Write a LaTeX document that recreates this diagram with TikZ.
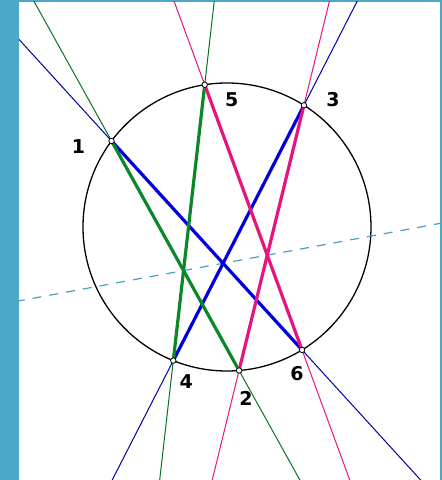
\documentclass[tikz,border=0pt]{standalone}
\usepackage{fontspec}
\newfontfamily\lblfont{DejaVu Sans}
\usepackage{tikz}
\usetikzlibrary{calc,positioning}
\usepackage{xcolor}
\definecolor{frame}{RGB}{74,168,198}
\definecolor{hexblue}{RGB}{0,0,220}
\definecolor{hexgreen}{RGB}{10,135,40}
\definecolor{hexpink}{RGB}{230,20,125}
\definecolor{pascal}{RGB}{70,160,200}

\begin{document}
\begin{tikzpicture}[
  x=1pt, y=1pt,
  vtx/.style={draw=black, fill=white, circle, line width=0.8pt,
              minimum size=5.5pt, inner sep=0pt},
  lbl/.style={font=\lblfont\bfseries\fontsize{19}{19}\selectfont, inner sep=0pt},
  ext/.style={line width=1pt},
  side/.style={line width=3.2pt},
]
\useasboundingbox (0,0) rectangle (442,480);
\fill[frame] (0,0) rectangle (442,480);
\fill[white] (19,0) rectangle (440,478);

\coordinate (o) at (227,253);
\coordinate (c1) at ($(o)+(143.3:144)$);
\coordinate (c5) at ($(o)+(98.9:144)$);
\coordinate (c3) at ($(o)+(57.7:144)$);
\coordinate (c4) at ($(o)+(248.1:144)$);
\coordinate (c2) at ($(o)+(274.8:144)$);
\coordinate (c6) at ($(o)+(301.4:144)$);

% Pascal points
\coordinate (xg) at (intersection of c1--c2 and c4--c5);
\coordinate (xm) at (intersection of c2--c3 and c5--c6);

\draw[line width=1.3pt] (o) circle (144);

\begin{scope}
\clip (19,0) rectangle (440,478);
\draw[ext, hexblue!75!black] ($(c1)!-2!(c6)$) -- ($(c6)!-2!(c1)$);
\draw[ext, hexblue!75!black] ($(c4)!-2!(c3)$) -- ($(c3)!-2!(c4)$);
\draw[ext, hexgreen!85!black] ($(c1)!-2!(c2)$) -- ($(c2)!-2!(c1)$);
\draw[ext, hexgreen!85!black] ($(c5)!-2!(c4)$) -- ($(c4)!-2!(c5)$);
\draw[ext, hexpink] ($(c5)!-2!(c6)$) -- ($(c6)!-2!(c5)$);
\draw[ext, hexpink] ($(c3)!-2!(c2)$) -- ($(c2)!-2!(c3)$);
\draw[pascal, line width=1.2pt, dash pattern=on 9pt off 8pt]
  ($(xg)!-4!(xm)$) -- ($(xm)!-4!(xg)$);
\end{scope}

\draw[side, hexblue] (c1) -- (c6);
\draw[side, hexblue] (c4) -- (c3);
\draw[side, hexgreen] (c1) -- (c2);
\draw[side, hexgreen] (c5) -- (c4);
\draw[side, hexpink] (c5) -- (c6);
\draw[side, hexpink] (c3) -- (c2);

\node[vtx] (p1) at (c1) {};
\node[vtx] (p2) at (c2) {};
\node[vtx] (p3) at (c3) {};
\node[vtx] (p4) at (c4) {};
\node[vtx] (p5) at (c5) {};
\node[vtx] (p6) at (c6) {};

\node[lbl, left=23pt of p1, yshift=-6pt] (l1) {1};
\node[lbl, below=18pt of p2, xshift=7pt] (l2) {2};
\node[lbl, right=19pt of p3, yshift=6pt] (l3) {3};
\node[lbl, below right=12pt and 4pt of p4] (l4) {4};
\node[lbl, below right=5pt and 18pt of p5] (l5) {5};
\node[lbl, below=13pt of p6, xshift=-5pt] (l6) {6};
\end{tikzpicture}
\end{document}
